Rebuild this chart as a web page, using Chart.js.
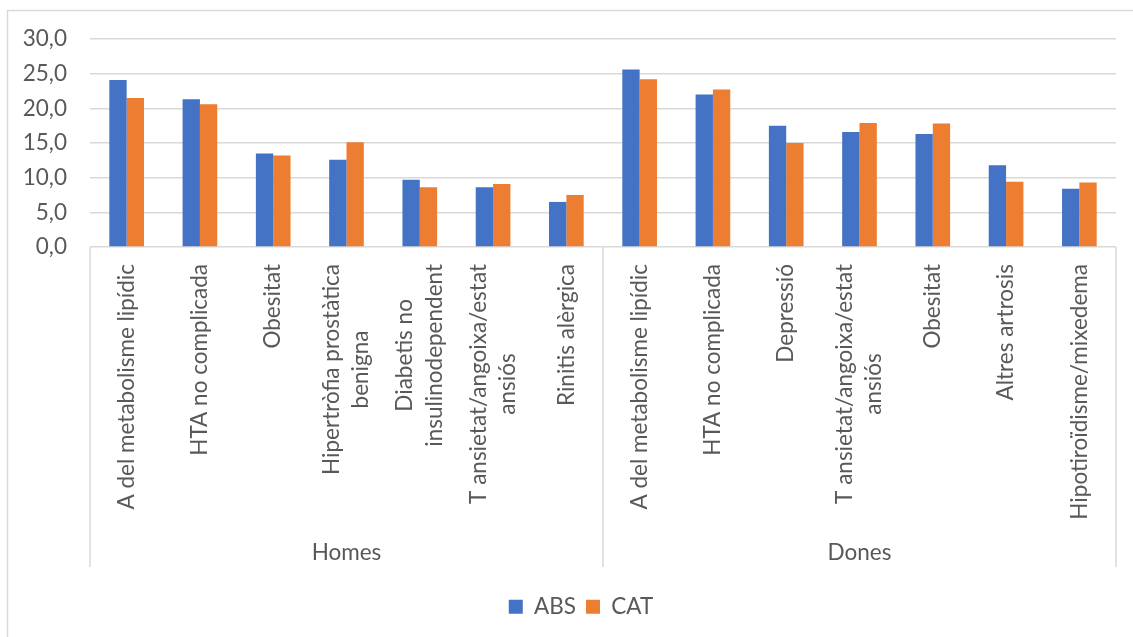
<!DOCTYPE html>
<html>
<head>
<meta charset="utf-8">
<script src="https://cdn.jsdelivr.net/npm/chart.js@4.4.1/dist/chart.umd.min.js"></script>
<style>
  html, body { margin: 0; padding: 0; background: #ffffff; }
  canvas { display: block; }
</style>
</head>
<body>
<canvas id="chart" width="1133" height="637"></canvas>
<script>
// category labels (wrapped the way the original wraps them)
const categories = [
  ['A del metabolisme lipídic'],
  ['HTA no complicada'],
  ['Obesitat'],
  ['Hipertròfia prostàtica', 'benigna'],
  ['Diabetis no', 'insulinodependent'],
  ['T ansietat/angoixa/estat', 'ansiós'],
  ['Rinitis alèrgica'],
  ['A del metabolisme lipídic'],
  ['HTA no complicada'],
  ['Depressió'],
  ['T ansietat/angoixa/estat', 'ansiós'],
  ['Obesitat'],
  ['Altres artrosis'],
  ['Hipotiroïdisme/mixedema']
];
const groups = ['Homes', 'Dones'];
const groupSizes = [7, 7];

const absValues = [24.1, 21.3, 13.5, 12.6, 9.7, 8.6, 6.5, 25.6, 22.0, 17.5, 16.6, 16.3, 11.8, 8.4];
const catValues = [21.5, 20.6, 13.2, 15.1, 8.6, 9.1, 7.5, 24.2, 22.7, 15.0, 17.9, 17.8, 9.4, 9.3];

const yMin = 0;
const yMax = 30;
const yStep = 5;

const FONT = 'Lato, "Open Sans", sans-serif';
const FONT_SIZE = 22.5;
const TEXT_COLOR = '#595959';
const LINE_COLOR = '#d9d9d9';
const PAD_BOTTOM = 9;
const LEGEND_LEFT = 46;

// draws the rotated category labels, group labels and the separator lines
const groupAxisPlugin = {
  id: 'groupAxis',
  afterLayout(chart) {
    // Excel centres the legend a bit right of the canvas centre
    const lg = chart.legend;
    if (lg) {
      lg.left = LEGEND_LEFT;
      lg.width = lg.right - lg.left;
    }
  },
  beforeDraw(chart) {
    const ctx = chart.ctx;
    ctx.save();
    ctx.strokeStyle = LINE_COLOR;
    ctx.lineWidth = 1.5;
    ctx.beginPath();
    ctx.moveTo(7.5, chart.height);
    ctx.lineTo(7.5, 10.5);
    ctx.lineTo(chart.width, 10.5);
    ctx.stroke();
    ctx.restore();
  },
  afterDraw(chart) {
    const ctx = chart.ctx;
    const x = chart.scales.x;
    const area = chart.chartArea;
    const labelTop = area.bottom + 17;
    const sepBottom = 567;
    const lineH = FONT_SIZE * 1.3;

    ctx.save();
    ctx.font = FONT_SIZE + 'px ' + FONT;
    ctx.fillStyle = TEXT_COLOR;

    categories.forEach((lines, i) => {
      const cx = x.getPixelForValue(i);
      const maxW = Math.max(...lines.map(l => ctx.measureText(l).width));
      ctx.save();
      ctx.translate(cx, labelTop);
      ctx.rotate(-Math.PI / 2);
      ctx.textAlign = 'center';
      ctx.textBaseline = 'middle';
      lines.forEach((line, j) => {
        const off = (j - (lines.length - 1) / 2) * lineH;
        ctx.fillText(line, -maxW / 2, off);
      });
      ctx.restore();
    });

    // separators
    ctx.strokeStyle = LINE_COLOR;
    ctx.lineWidth = 1.5;
    let start = 0;
    const edges = [x.left];
    groupSizes.forEach(n => {
      start += n;
      edges.push(start === categories.length ? x.right : x.getPixelForValue(start - 0.5));
    });
    ctx.beginPath();
    edges.forEach(ex => {
      ctx.moveTo(ex, area.bottom);
      ctx.lineTo(ex, sepBottom);
    });
    ctx.stroke();

    ctx.textAlign = 'center';
    ctx.textBaseline = 'middle';
    groups.forEach((g, k) => {
      ctx.fillText(g, (edges[k] + edges[k + 1]) / 2, 553);
    });
    ctx.restore();
  }
};

new Chart(document.getElementById('chart'), {
  type: 'bar',
  data: {
    labels: categories,
    datasets: [
      { label: 'ABS', data: absValues, backgroundColor: '#4472C4' },
      { label: 'CAT', data: catValues, backgroundColor: '#ED7D31' }
    ]
  },
  options: {
    responsive: false,
    animation: false,
    devicePixelRatio: 1,
    layout: { padding: { left: 0, right: 17, top: 39, bottom: PAD_BOTTOM } },
    datasets: {
      bar: { barPercentage: 1, categoryPercentage: 0.473 }
    },
    scales: {
      x: {
        grid: { display: false },
        border: { display: false },
        ticks: { display: false },
        afterFit(scale) {
          const lg = scale.chart.legend;
          const lh = lg && lg.height ? lg.height : 49;
          scale.height = 637 - 247 - lh - PAD_BOTTOM;
        }
      },
      y: {
        min: yMin,
        max: yMax,
        grid: { color: LINE_COLOR, lineWidth: 1.5, drawTicks: false },
        border: { display: false },
        ticks: {
          stepSize: yStep,
          padding: 23,
          color: TEXT_COLOR,
          font: { family: FONT, size: FONT_SIZE },
          callback: v => v.toFixed(1).replace('.', ',')
        },
        afterFit(scale) {
          scale.width = 90;
        }
      }
    },
    plugins: {
      legend: {
        position: 'bottom',
        labels: {
          boxWidth: 14,
          boxHeight: 14,
          padding: 10,
          color: TEXT_COLOR,
          font: { family: FONT, size: FONT_SIZE }
        }
      },
      tooltip: { enabled: false }
    }
  },
  plugins: [groupAxisPlugin]
});
</script>
</body>
</html>
